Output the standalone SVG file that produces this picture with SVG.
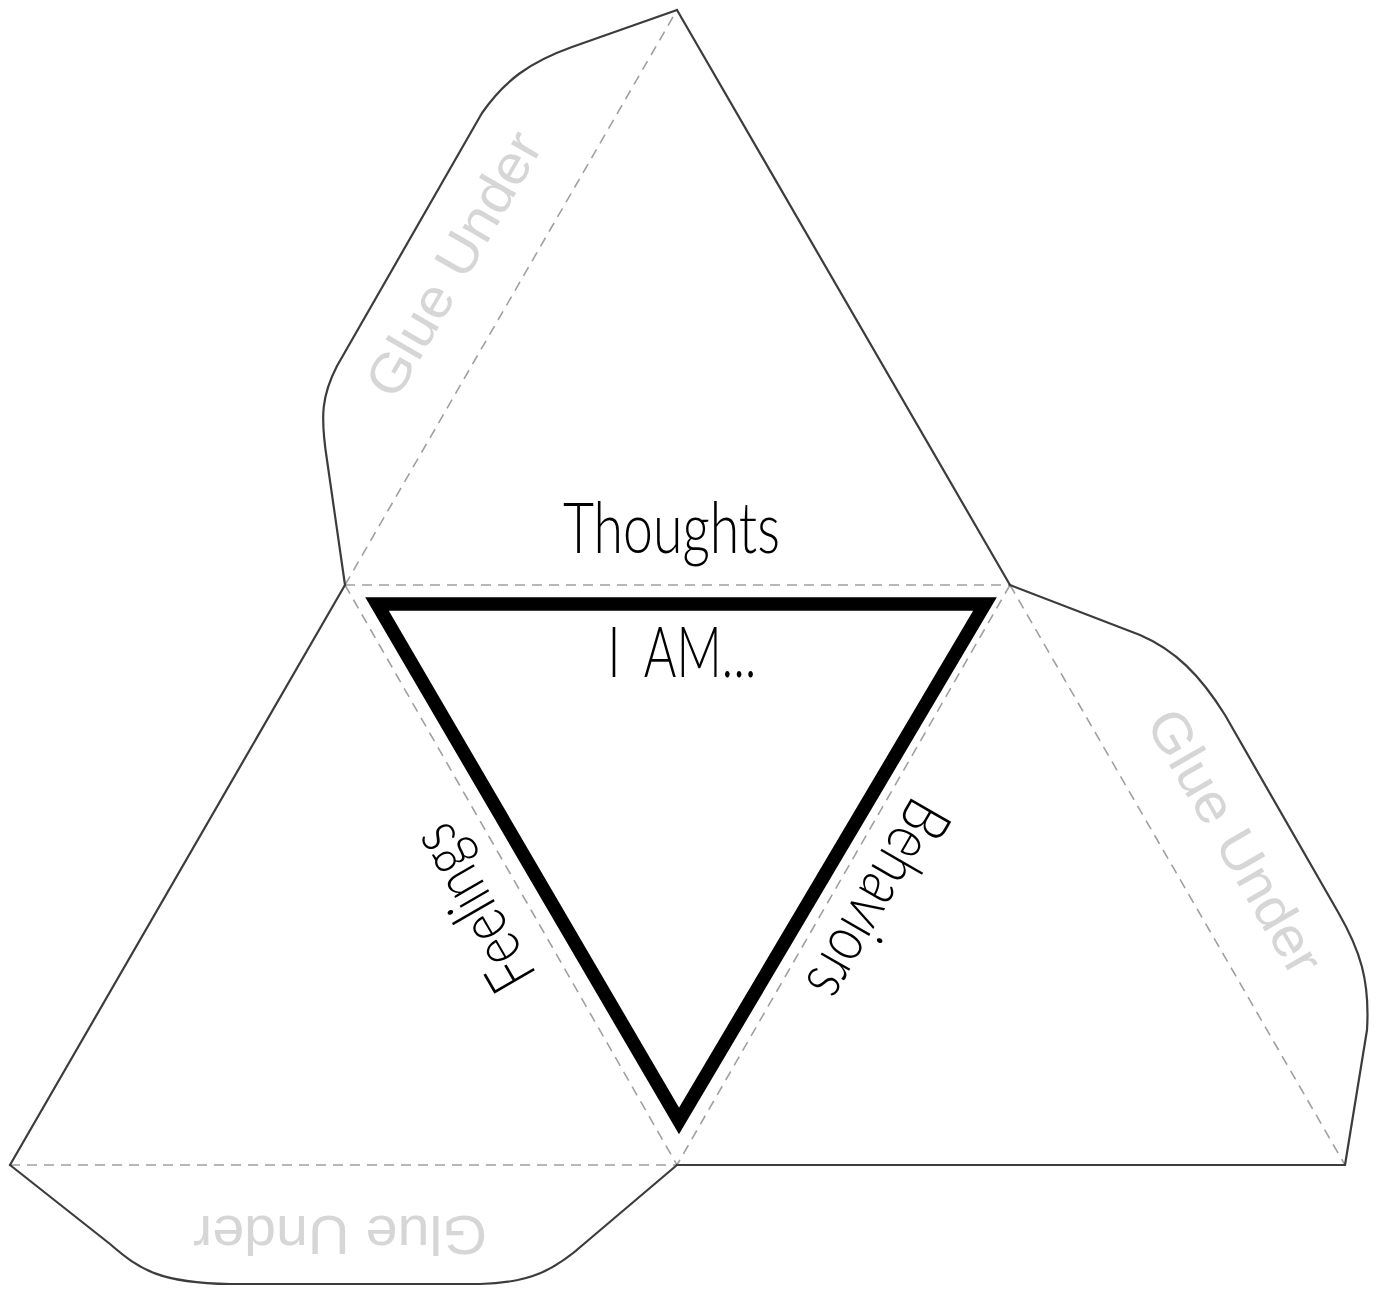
<svg xmlns="http://www.w3.org/2000/svg" width="1377" height="1291" viewBox="0 0 1377 1291">
<style>
.cut{fill:none;stroke:#3c3c3c;stroke-width:2.2;stroke-linejoin:round;stroke-linecap:round}
.fold{fill:none;stroke:#a0a0a0;stroke-width:1.6;stroke-dasharray:10 7}
.hand{font-family:Lato,"Open Sans","DejaVu Sans",sans-serif;font-weight:300;fill:#000;text-anchor:middle}
.glue{font-family:"Liberation Sans",Arial,sans-serif;fill:#d6d6d6;text-anchor:middle;font-size:55px}
</style>
<rect width="1377" height="1291" fill="#fff"/>
<g id="folds">
<path class="fold" d="M345,585 L1010,585 M345,585 L677,1165 M1010,585 L677,1165"/>
<path class="fold" d="M345,585 L677,10"/>
<path class="fold" d="M1010,585 L1345,1165"/>
<path class="fold" d="M10,1165 L677,1165"/>
</g>
<g id="outline">
<path class="cut" d="M677,10 L1010,585"/>
<path class="cut" d="M10,1165 L345,585"/>
<path class="cut" d="M677,1165 L1345,1165"/>
<path id="flap-top" class="cut" d="M345,585 L327,460 C320,415 322,395 337,366 L482,113 C505,80 530,62 572,47 L677,10"/>
<path id="flap-right" class="cut" d="M1010,585 L1140,635 C1175,650 1200,675 1225,715 L1338,912 C1360,950 1370,980 1367,1030 L1345,1165"/>
<path id="flap-bottom" class="cut" d="M10,1165 L110,1244 C140,1270 160,1283 230,1284 L480,1284 C530,1283 555,1270 585,1243 L677,1165"/>
</g>
<g id="center">
<path d="M377,604 L985,604 L679,1121 Z" fill="none" stroke="#000" stroke-width="13.5" stroke-linejoin="miter"/>
</g>
<g id="labels">
<text class="hand" x="671.5" y="553" font-size="71" textLength="217" lengthAdjust="spacingAndGlyphs">Thoughts</text>
<text class="hand" x="682" y="677" font-size="70" textLength="149" lengthAdjust="spacingAndGlyphs">I<tspan dx="16"> AM...</tspan></text>
<text class="hand" transform="translate(492.4,897) rotate(-120)" font-size="66" textLength="180" lengthAdjust="spacingAndGlyphs">Feelings</text>
<text class="hand" transform="translate(858.7,888.5) rotate(120)" font-size="66" textLength="219" lengthAdjust="spacingAndGlyphs">Behaviors</text>
</g>
<g id="glue-labels">
<text class="glue" transform="translate(469.8,273.5) rotate(-60)" textLength="296" lengthAdjust="spacingAndGlyphs">Glue Under</text>
<text class="glue" transform="translate(1218.7,851) rotate(60)" textLength="296" lengthAdjust="spacingAndGlyphs">Glue Under</text>
<text class="glue" transform="translate(340,1216) rotate(180)" textLength="294" lengthAdjust="spacingAndGlyphs">Glue Under</text>
</g>
</svg>
